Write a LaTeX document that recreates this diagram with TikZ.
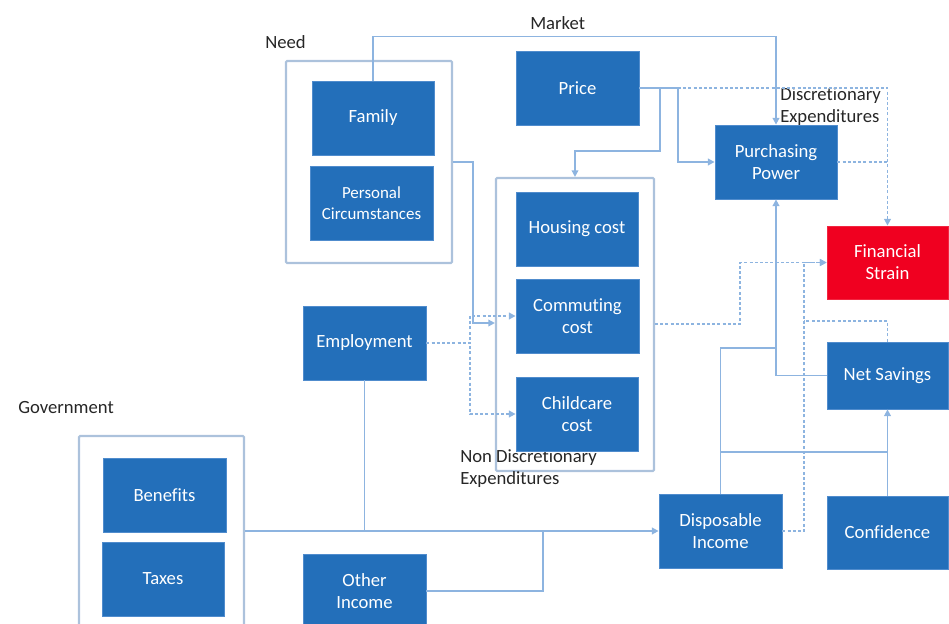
\documentclass[tikz,border=0pt]{standalone}
\usepackage{fontspec}
\setmainfont{Carlito}[Ligatures=NoCommon]
\usetikzlibrary{fit,arrows.meta}
\definecolor{boxblue}{RGB}{35,111,186}
\definecolor{boxedge}{RGB}{80,140,205}
\definecolor{strainred}{RGB}{240,0,32}
\definecolor{linkblue}{RGB}{141,180,224}
\definecolor{groupedge}{RGB}{172,194,220}
\definecolor{labelgray}{RGB}{38,38,38}
\tikzset{
  box/.style={fill=boxblue, draw=boxedge, line width=0.6pt, inner sep=0pt},
  redbox/.style={box, fill=strainred, draw=strainred!85!white},
  boxtext/.style={text=white, align=center, inner sep=0pt,
    font=\fontsize{14}{16.5}\selectfont},
  grp/.style={draw=groupedge, line width=1.6pt, inner sep=0pt, rounded corners=0.8pt},
  lbl/.style={text=labelgray, inner sep=0pt, align=left, font=\fontsize{14}{17}\selectfont},
  conn/.style={draw=linkblue, line width=1.2pt},
  dconn/.style={conn, dash pattern=on 2.2pt off 1.7pt},
  tip/.style={-{Triangle[length=5pt,width=5pt]}}
}
\begin{document}
\begin{tikzpicture}[x=0.75pt,y=-0.75pt]
\useasboundingbox (0,0) rectangle (949,624);
\clip (0,0) rectangle (949,624);

% group frames
\node[grp, fit={(286,61)(452,263)}] (needgrp) {};
\node[grp, fit={(496,178)(654,471)}] (ndgrp) {};
\node[grp, fit={(79,436)(244,640)}] (govgrp) {};

% group captions
\node[lbl, anchor=west] (needlbl) at (265,42) {Need};
\node[lbl, anchor=west] (marketlbl) at (530,23) {Market};
\node[lbl, anchor=north west] (disclbl) at (780,87) {Discretionary\\Expenditures};
\node[lbl, anchor=north west] (ndlbl) at (460,449) {Non Discretionary\\Expenditures};
\node[lbl, anchor=west] (govlbl) at (18,408) {Government};

% factor boxes
\node[box, fit={(312,81)(434,155)}] (family) {};
\node[box, fit={(310,166)(433,240)}] (personal) {};
\node[box, fit={(516,51)(639,125)}] (price) {};
\node[box, fit={(516,192)(638,266)}] (housing) {};
\node[box, fit={(516,279)(639,353)}] (commuting) {};
\node[box, fit={(516,377)(638,451)}] (childcare) {};
\node[box, fit={(303,306)(426,380)}] (employment) {};
\node[box, fit={(715,125)(837,199)}] (pp) {};
\node[redbox, fit={(827,226)(948,299)}] (fs) {};
\node[box, fit={(827,342)(948,409)}] (ns) {};
\node[box, fit={(659,494)(782,568)}] (di) {};
\node[box, fit={(827,496)(948,569)}] (conf) {};
\node[box, fit={(103,458)(226,532)}] (benefits) {};
\node[box, fit={(102,542)(224,616)}] (taxes) {};
\node[box, fit={(303,554)(426,628)}] (other) {};

% box texts
\node[boxtext] (familyt) at (family) {Family};
\node[boxtext, font=\fontsize{12.7}{15.5}\selectfont] (personalt) at (personal) {Personal\\Circumstances};
\node[boxtext] (pricet) at (price) {Price};
\node[boxtext] (housingt) at (housing) {Housing cost};
\node[boxtext] (commutingt) at (commuting) {Commuting\\cost};
\node[boxtext] (childcaret) at (childcare) {Childcare\\cost};
\node[boxtext] (employmentt) at (employment) {Employment};
\node[boxtext] (ppt) at (pp) {Purchasing\\Power};
\node[boxtext] (fst) at (fs) {Financial\\Strain};
\node[boxtext] (nst) at (ns) {Net Savings};
\node[boxtext] (dit) at (di) {Disposable\\Income};
\node[boxtext] (conft) at (conf) {Confidence};
\node[boxtext] (benefitst) at (benefits) {Benefits};
\node[boxtext] (taxest) at (taxes) {Taxes};
\node[boxtext] (othert) at (other) {Other\\Income};

% solid links
\draw[conn,tip] (family.north) -- ++(0,-44) -| (pp.north);
\draw[conn,tip] (needgrp.east |- 0,162) -- (473,162) -- (473,323) -- (ndgrp.west |- 0,323);
\draw[conn,tip] (price.east) -| (660,151) -| (ndgrp.north);
\draw[conn,tip] (price.east) -- (678,88) |- (pp.west);
\draw[conn,tip] (ns.west) -| (pp.south);
\draw[conn] (di.north) |- (pp.south |- 0,348);
\draw[conn] (di.north) |- (ns.south |- 0,452);
\draw[conn,tip] (conf.north) -- (ns.south);
\draw[conn,tip] (govgrp.east |- di.west) -- (di.west);
\draw[conn] (employment.south) -- (employment.south |- di.west);
\draw[conn] (other.east) -| (543,531);

% dotted links
\coordinate (pricefork) at (678,88);
\draw[dconn,tip] (pricefork) -| (fs.north);
\draw[dconn] (pp.east) -- (pp.east -| fs.north);
\draw[dconn,tip] (ndgrp.east |- 0,324) -- (740,324) |- (fs.west);
\draw[dconn,tip] (di.east) -- (804,531) |- (fs.west);
\draw[dconn] (ns.north) |- (804,321);
\draw[dconn,tip] (employment.east) -| (470,316) -- (commuting.west);
\draw[dconn,tip] (employment.east) -| (470,414) -- (childcare.west);
\end{tikzpicture}
\end{document}
